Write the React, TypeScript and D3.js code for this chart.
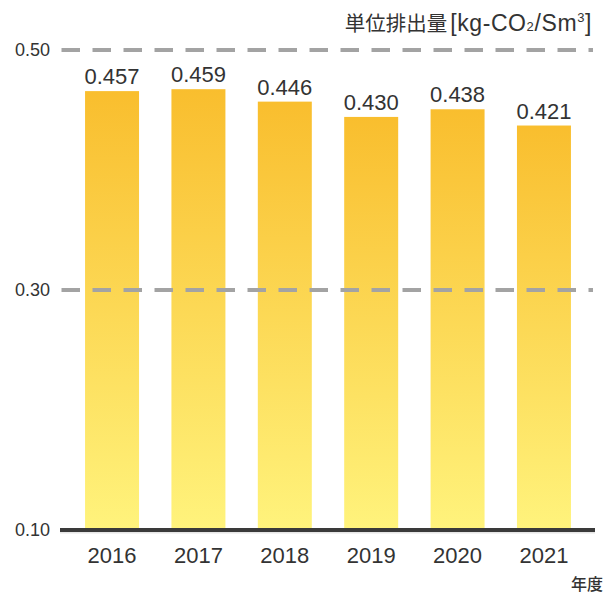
import React, { useRef, useEffect } from "react";
import * as d3 from "d3";

const years = ["2016", "2017", "2018", "2019", "2020", "2021"];
const values = [0.457, 0.459, 0.446, 0.43, 0.438, 0.421];
const tickValues = [0.1, 0.3, 0.5];
const gridValues = [0.3, 0.5];

const width = 606;
const height = 595;
const latin = "'Liberation Sans', Arial, Helvetica, sans-serif";
const cjk = "'Noto Sans CJK JP', sans-serif";

export default function App() {
  const ref = useRef<SVGGElement>(null);

  useEffect(() => {
    const g = d3.select(ref.current);
    g.selectAll("*").remove();

    const x = d3
      .scaleBand<string>()
      .domain(years)
      .range([60, 596])
      .paddingInner(0.375)
      .paddingOuter(0.29);

    // bars are measured from zero, but the tick labels start at 0.10
    const yBar = d3.scaleLinear().domain([0, 0.5]).range([528, 50]);
    const yAxis = d3.scaleLinear().domain([0.1, 0.5]).range([530, 50]);

    g.selectAll("rect.bar")
      .data(values)
      .enter()
      .append("rect")
      .attr("class", "bar")
      .attr("x", (d, i) => x(years[i]) as number)
      .attr("width", x.bandwidth())
      .attr("y", d => yBar(d))
      .attr("height", d => yBar(0) - yBar(d))
      .attr("fill", "url(#barGradient)");

    // value labels over each bar
    g.selectAll("text.value")
      .data(values)
      .enter()
      .append("text")
      .attr("class", "value")
      .attr("x", (d, i) => (x(years[i]) as number) + x.bandwidth() / 2)
      .attr("y", d => yBar(d) - 7)
      .attr("text-anchor", "middle")
      .attr("font-family", latin)
      .attr("font-size", 22)
      .attr("fill", "#333")
      .text(d => d3.format(".3f")(d));

    // dashed grid lines sit on top of the bars
    g.selectAll("line.grid")
      .data(gridValues)
      .enter()
      .append("line")
      .attr("class", "grid")
      .attr("x1", 61.5)
      .attr("x2", 593)
      .attr("y1", d => yAxis(d))
      .attr("y2", d => yAxis(d))
      .attr("stroke", "#a3a3a3")
      .attr("stroke-width", 4)
      .attr("stroke-dasharray", "18.5 12.5");

    // baseline
    g.append("line")
      .attr("x1", 60)
      .attr("x2", 595)
      .attr("y1", yAxis(0.1) + 2)
      .attr("y2", yAxis(0.1) + 2)
      .attr("stroke", "#e6e6e6")
      .attr("stroke-width", 3);
    g.append("line")
      .attr("x1", 60)
      .attr("x2", 595)
      .attr("y1", yAxis(0.1))
      .attr("y2", yAxis(0.1))
      .attr("stroke", "#3a3a3a")
      .attr("stroke-width", 4);

    g.selectAll("text.tick")
      .data(tickValues)
      .enter()
      .append("text")
      .attr("class", "tick")
      .attr("x", 50)
      .attr("y", d => yAxis(d))
      .attr("dy", "0.35em")
      .attr("text-anchor", "end")
      .attr("font-family", latin)
      .attr("font-size", 18)
      .attr("fill", "#333")
      .text(d => d3.format(".2f")(d));

    g.selectAll("text.year")
      .data(years)
      .enter()
      .append("text")
      .attr("class", "year")
      .attr("x", d => (x(d) as number) + x.bandwidth() / 2)
      .attr("y", 563)
      .attr("text-anchor", "middle")
      .attr("font-family", latin)
      .attr("font-size", 22)
      .attr("fill", "#333")
      .text(d => d);

    // unit label, top right
    const unit = g
      .append("text")
      .attr("x", 592)
      .attr("y", 31)
      .attr("text-anchor", "end")
      .attr("fill", "#333");
    unit.append("tspan").attr("font-family", cjk).attr("font-size", 20.5).text("単位排出量");
    const lat = unit
      .append("tspan")
      .attr("font-family", latin)
      .attr("font-size", 23)
      .attr("letter-spacing", 0.6)
      .attr("dx", 3);
    lat.append("tspan").text("[kg-CO");
    lat.append("tspan").attr("font-size", 13).text("2");
    lat.append("tspan").text("/Sm");
    lat.append("tspan").attr("font-size", 13).attr("dy", -9).text("3");
    lat.append("tspan").attr("dy", 9).text("]");

    g.append("text")
      .attr("x", 603)
      .attr("y", 590)
      .attr("text-anchor", "end")
      .attr("font-family", cjk)
      .attr("font-size", 16)
      .attr("font-weight", 500)
      .attr("fill", "#333")
      .text("年度");
  }, []);

  return (
    <svg
      width={width}
      height={height}
      style={{ position: "absolute", left: 0, top: 0, background: "#fff" }}
    >
      <defs>
        <linearGradient id="barGradient" x1="0%" y1="0%" x2="0%" y2="100%">
          <stop offset="0%" stopColor="#f9be2e" />
          <stop offset="100%" stopColor="#fff37c" />
        </linearGradient>
      </defs>
      <g ref={ref} />
    </svg>
  );
}
